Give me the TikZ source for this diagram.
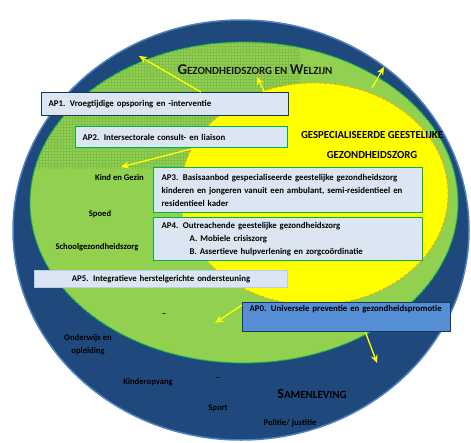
\documentclass[tikz,border=0pt]{standalone}
\usepackage{fontspec}
\setmainfont{Carlito}
\usetikzlibrary{calc, positioning}
\usetikzlibrary{arrows.meta}
\usetikzlibrary{patterns}

\definecolor{navy}{RGB}{31,73,125}
\definecolor{rimblue}{RGB}{79,129,189}
\definecolor{leafgreen}{RGB}{146,208,80}
\definecolor{dotgreen}{RGB}{0,176,80}
\definecolor{gridgreen}{RGB}{128,190,74}
\definecolor{boxfill}{RGB}{220,230,242}
\definecolor{boxnavy}{RGB}{23,55,94}
\definecolor{apblue}{RGB}{85,142,213}
\definecolor{apgrey}{RGB}{185,205,229}
\definecolor{sunyellow}{RGB}{255,255,0}
\colorlet{sunedge}{sunyellow!75!leafgreen}

\pgfdeclareradialshading{sunfade}{\pgfpoint{0bp}{0bp}}{color(0bp)=(sunyellow); color(44bp)=(sunyellow); color(49bp)=(sunedge); color(50bp)=(sunedge)}

\newcommand{\zonecaps}[3]{{\fontsize{#1}{#1}\selectfont #2}{\fontsize{\numexpr#1*3/4\relax}{#1}\selectfont #3}}

\tikzset{
  apbox/.style={draw, fill=boxfill, line width=1.3pt, inner xsep=7pt, inner ysep=0pt,
    anchor=north west, align=left, font=\fontsize{8.8}{12.8}\selectfont\bfseries},
  fieldlabel/.style={font=\fontsize{8.6}{13}\selectfont\bfseries, inner sep=0pt},
  glow/.style={sunyellow, line width=1.3pt, -{Stealth[length=8pt, width=7pt]}},
}

\begin{document}
\begin{tikzpicture}[x=1pt, y=-1pt]
\useasboundingbox (0,0) rectangle (471,442);

\fill[navy] (241,230) ellipse [x radius=228pt, y radius=210pt];
\draw[rimblue, line width=1.5pt] (241,230) ellipse [x radius=228pt, y radius=210pt];

\fill[leafgreen] (244,202.5) ellipse [x radius=214pt, y radius=160.5pt];
\begin{scope}
\clip (244,202.5) ellipse [x radius=214pt, y radius=160.5pt];
\fill[pattern=grid, pattern color=gridgreen] (0,0) rectangle (300,168);
\end{scope}
\draw[dotgreen, line width=1.2pt, densely dotted] (244,202.5) ellipse [x radius=214pt, y radius=160.5pt];

\shade[shading=sunfade] (314,194) ellipse [x radius=134pt, y radius=111pt];
\draw[orange!70!yellow, line width=0.8pt, densely dashed] (314,194) ellipse [x radius=134pt, y radius=111pt];

\node[font=\bfseries, text=black!90] (zorg) at (255,70) {\zonecaps{15}{G}{EZONDHEIDSZORG EN }\zonecaps{15}{W}{ELZIJN}};
\node[font=\fontsize{10.8}{20}\selectfont\bfseries, align=center] (ggz) at (372,145) {GESPECIALISEERDE GEESTELIJKE\\GEZONDHEIDSZORG};

\node[apbox, draw=boxnavy, text width=233pt, minimum height=23pt] (ap1) at (41,92)
  {AP1. Vroegtijdige opsporing en -interventie};
\node[apbox, draw=dotgreen, text width=198pt, minimum height=21pt] (ap2) at (75,126)
  {AP2. Intersectorale consult- en liaison};
\node[apbox, draw=dotgreen, inner xsep=8pt, text width=253pt, minimum height=45pt] (ap3) at (153,167)
  {AP3. Basisaanbod gespecialiseerde geestelijke gezondheidszorg\\
   kinderen en jongeren vanuit een ambulant, semi-residentieel en\\
   residentieel kader};
\node[apbox, draw=dotgreen, inner xsep=8pt, text width=253pt, minimum height=43pt] (ap4) at (153,217)
  {AP4. Outreachende geestelijke gezondheidszorg\\
   \hspace*{28pt}A. Mobiele crisiszorg\\
   \hspace*{28pt}B. Assertieve hulpverlening en zorgcoördinatie};
\node[apbox, draw=apgrey, line width=1pt, align=center, text width=239pt, minimum height=17pt] (ap5) at (34,270)
  {AP5. Integratieve herstelgerichte ondersteuning};
\node[apbox, fill=apblue, draw=boxnavy, text width=194pt, inner ysep=3pt, text height=6pt, text depth=17pt] (ap0) at (242,302)
  {AP0. Universele preventie en gezondheidspromotie};

\node[fieldlabel, anchor=east] (kind) at (144,178) {Kind en Gezin};
\node[fieldlabel] (spoed) at (100,214) {Spoed};
\node[fieldlabel] (school) at (97,247) {Schoolgezondheidszorg};
\node[fieldlabel] (dasha) at (164,315) {–};
\node[fieldlabel, align=center] (onderwijs) at (88,345) {Onderwijs en\\opleiding};
\node[fieldlabel] (opvang) at (148,382) {Kinderopvang};
\node[fieldlabel] (dashb) at (218,379) {–};
\node[fieldlabel] (sport) at (218,408) {Sport};
\node[fieldlabel] (politie) at (290,423) {Politie/ justitie};
\node[font=\bfseries] (samen) at (312,394) {\zonecaps{14}{S}{AMENLEVING}};

\coordinate (up1) at (139,56);
\coordinate (up2) at (257,77);
\coordinate (rim3) at (372,88);
\coordinate (up3) at (384,67);
\coordinate (left4) at (121,167);
\coordinate (down5) at (215,323);
\coordinate (down6) at (377,363);

\draw[glow] ($(ap1.north west)!0.644!(ap1.north east)$) -- (up1);
\draw[glow] ($(ap1.north west)!0.9!(ap1.north east)$) -- (up2);
\draw[glow] (rim3) -- (up3);
\draw[glow] ($(ap2.south west)!0.557!(ap2.south east)$) -- (left4);
\draw[glow] ([yshift=-3pt]ap0.north west) -- (down5);
\draw[glow] ($(ap0.south west)!0.59!(ap0.south east)$) -- (down6);
\end{tikzpicture}
\end{document}
